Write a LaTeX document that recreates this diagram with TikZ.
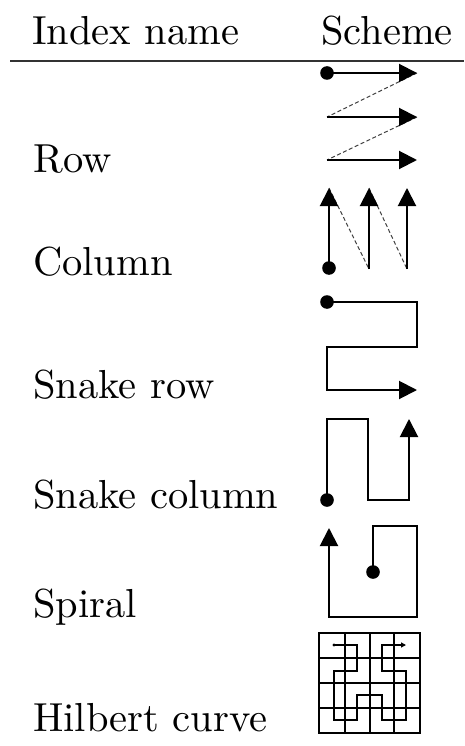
\documentclass[tikz,border=0pt]{standalone}
\usetikzlibrary{arrows.meta}
\newcommand{\bigtxt}[1]{\scalebox{4.05}{\fontsize{10}{12}\selectfont #1}}
\begin{document}
\begin{tikzpicture}[x=1pt,y=-1pt,
  lbl/.style={anchor=base west,inner sep=0pt},
  path/.style={line width=2pt,line join=miter},
  arr/.style={path,-{Triangle[length=18pt,width=18pt]}},
  dsh/.style={line width=1pt,dash pattern=on 4pt off 2.5pt,black!75},
  dotfill/.style={fill=black},
  grid/.style={line width=2pt},
  hil/.style={line width=1.8pt}]
\useasboundingbox (0,0) rectangle (464,746);
% header
\node[lbl] (hname) at (32,45) {\bigtxt{Index name}};
\node[lbl] (hscheme) at (321,45) {\bigtxt{Scheme}};
\coordinate (rl) at (10,61);
\coordinate (rr) at (464,61);
\draw[line width=2pt,black!80] (rl) -- (rr);
% labels
\node[lbl] (lrow) at (33,172) {\bigtxt{Row}};
\node[lbl] (lcol) at (33,275) {\bigtxt{Column}};
\node[lbl] (lsrow) at (33,398) {\bigtxt{Snake row}};
\node[lbl] (lscol) at (33,508) {\bigtxt{Snake column}};
\node[lbl] (lspi) at (33,617) {\bigtxt{Spiral}};
\node[lbl] (lhil) at (33,731) {\bigtxt{Hilbert curve}};
% Row scheme
\coordinate (r1a) at (327,73);  \coordinate (r1b) at (417,73);
\coordinate (r2a) at (327,117); \coordinate (r2b) at (417,117);
\coordinate (r3a) at (327,160); \coordinate (r3b) at (417,160);
\draw[dsh] (r1b) -- (r2a);
\draw[dsh] (r2b) -- (r3a);
\draw[arr] (r1a) -- (r1b);
\draw[arr] (r2a) -- (r2b);
\draw[arr] (r3a) -- (r3b);
\fill[dotfill] (r1a) circle (6.8pt);
% Column scheme
\coordinate (c1a) at (329,268); \coordinate (c1b) at (329,188);
\coordinate (c2a) at (369,269); \coordinate (c2b) at (369,188);
\coordinate (c3a) at (407,269); \coordinate (c3b) at (407,188);
\draw[dsh] (c1b) -- (c2a);
\draw[dsh] (c2b) -- (c3a);
\draw[arr] (c1a) -- (c1b);
\draw[arr] (c2a) -- (c2b);
\draw[arr] (c3a) -- (c3b);
\fill[dotfill] (c1a) circle (6.8pt);
% Snake row
\coordinate (sr0) at (327,302);
\draw[arr] (sr0) -- (417,302) -- (417,347) -- (327,347) -- (327,390) -- (417,390);
\fill[dotfill] (sr0) circle (6.8pt);
% Snake column
\coordinate (sc0) at (327,500);
\draw[arr] (sc0) -- (327,419) -- (368,419) -- (368,500) -- (409,500) -- (409,419);
\fill[dotfill] (sc0) circle (6.8pt);
% Spiral
\coordinate (sp0) at (373,572);
\draw[arr] (sp0) -- (373,526) -- (417,526) -- (417,617) -- (329,617) -- (329,528);
\fill[dotfill] (sp0) circle (6.8pt);
% Hilbert grid
\draw[grid] (319,633) rectangle (420,733);
\foreach \gx in {345,369.5,394} {\draw[grid] (\gx,633) -- (\gx,733);}
\foreach \gy in {658,683,708} {\draw[grid] (319,\gy) -- (420,\gy);}
% Hilbert curve
\coordinate (h0) at (334,645);
\coordinate (h15) at (406,645);
\draw[hil,-{Triangle[length=5pt,width=5pt]}] (h0) -- (357,645) -- (357,671) -- (334,671) -- (334,720) -- (357,720) -- (357,695) -- (382,695) -- (382,720) -- (406,720) -- (406,671) -- (382,671) -- (382,645) -- (h15);
\fill[dotfill] (h0) circle (1.6pt);
\end{tikzpicture}
\end{document}
